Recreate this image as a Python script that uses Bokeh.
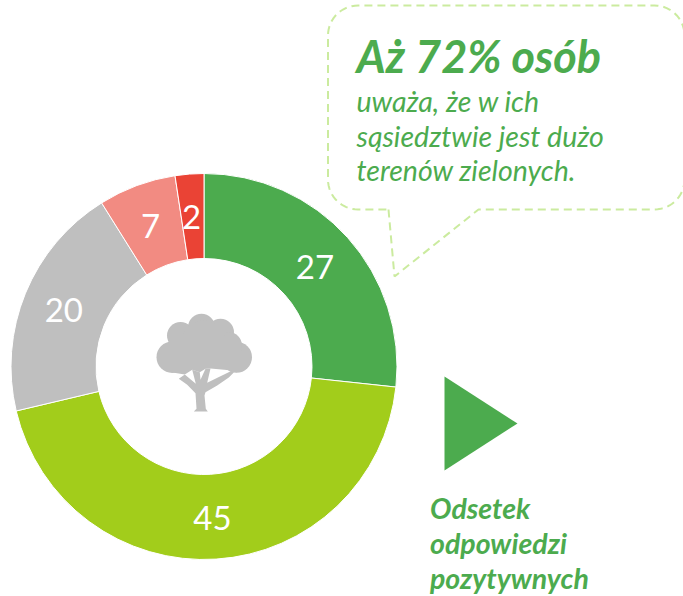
import numpy as np
from bokeh.plotting import figure
from bokeh.models import ColumnDataSource
from bokeh.core.properties import value
from bokeh.embed import file_html
from bokeh.resources import INLINE

categories = ["a", "b", "c", "d", "e"]
labels = ["27", "45", "20", "7", "2"]
shares = [26.7, 44.6, 19.8, 6.5, 2.4]
colors = ["#4CAB4E", "#A2CD1B", "#BFBFBF", "#F28B82", "#EA4335"]
headline = "Aż 72% osób"
sub_lines = ["uważa, że w ich", "sąsiedztwie jest dużo", "terenów zielonych."]
note_lines = ["Odsetek", "odpowiedzi", "pozytywnych"]

W, H = 683, 596
FONT = value("Lato")
GREEN = "#4CAB4E"
TREE = "#BFBFBF"
def Y(py):
    return 596 - np.asarray(py, dtype=float)

p = figure(width=W, height=H, x_range=(0, 683), y_range=(0, 596),
           output_backend="svg", toolbar_location=None, min_border=0,
           outline_line_color=None, background_fill_color="white",
           border_fill_color="white")
p.axis.visible = False
p.grid.visible = False

cx, cy, R, r = 203.5, 366, 193, 108
v = np.array(shares, dtype=float)
frac = np.cumsum(v) / v.sum() * 2 * np.pi
start = np.concatenate([[0], frac[:-1]])
src = ColumnDataSource(dict(cat=categories, start=np.pi/2 - start, end=np.pi/2 - frac, color=colors))
p.annular_wedge(x=cx, y=float(Y(cy)), inner_radius=r, outer_radius=R, start_angle="start", end_angle="end",
                direction="clock", fill_color="color", line_color="white", line_width=1, source=src)
mid = (start + frac) / 2
rm = (R + r) / 2
p.text(x=cx + rm*np.sin(mid) - 1, y=Y(cy) + rm*np.cos(mid) - 1, text=labels,
       text_color="white", text_font=FONT, text_font_size="33px", text_align="center", text_baseline="middle")

# tree
def disc(x, y, rad):
    p.circle(x=x, y=float(Y(y)), radius=rad, fill_color=TREE, line_color=None)
for c in [(171.7, 356.7, 15.7), (180, 335, 13.5), (201, 326.7, 13.5), (220, 331.7, 13.5),
          (236, 356.7, 15.5), (228, 345, 13.5), (203, 343, 23)]:
    disc(*c)
def poly(pts, color=TREE):
    xs, ys = zip(*pts)
    p.patch(list(xs), list(Y(ys)), fill_color=color, line_color=None)
poly([(172, 372), (184.3, 374), (191.7, 369.3), (199.3, 371.7), (205, 368.3), (210, 368), (231.7, 370),
      (236, 372), (236, 345), (172, 345)])
poly([(193.3, 411), (207.3, 411), (205.3, 408.3), (204, 395), (205, 391.7), (216.7, 385), (228.3, 377),
      (233.3, 372), (231.7, 370), (206.7, 382.3), (210, 368), (205, 368.3), (200, 379.3), (199.3, 371.7),
      (191.7, 369.3), (195.3, 383.3), (184.3, 374), (178.3, 378.3), (186.7, 384.3), (195, 392.7), (196, 408.3)])

# callout bubble
L, Rt, T, B, cr = 327.5, 684, 5, 209, 30
a = np.linspace(0, np.pi/2, 16)
xs = np.concatenate([[388, 394, 478], Rt - cr + cr*np.sin(a), Rt - cr + cr*np.cos(a),
                     L + cr - cr*np.sin(a), L + cr - cr*np.cos(a), [388]])
ys = np.concatenate([[B, 276, B], B - cr + cr*np.cos(a), T + cr - cr*np.sin(a),
                     T + cr - cr*np.cos(a), B - cr + cr*np.sin(a), [B]])
p.line(xs, Y(ys), line_color="#CBEB9F", line_width=2, line_dash="8 5")

p.text(x=[356], y=Y([55]), text=[headline], text_color=GREEN, text_font=FONT, text_font_style="bold italic",
       text_font_size="45px", text_baseline="alphabetic")
p.text(x=[356]*3, y=Y([100.5, 135, 169]), text=sub_lines, text_color=GREEN, text_font=FONT, text_font_style="italic",
       text_font_size="28.5px", text_baseline="alphabetic")

tri = [(444, 376), (517, 423), (444, 470)]
poly(tri, GREEN)
p.text(x=[429.5]*3, y=Y([507.5, 542.5, 577]), text=note_lines, text_color=GREEN, text_font=FONT, text_font_style="bold italic",
       text_font_size="28.5px", text_baseline="alphabetic")

open("out.html", "w").write(file_html(p, INLINE))
